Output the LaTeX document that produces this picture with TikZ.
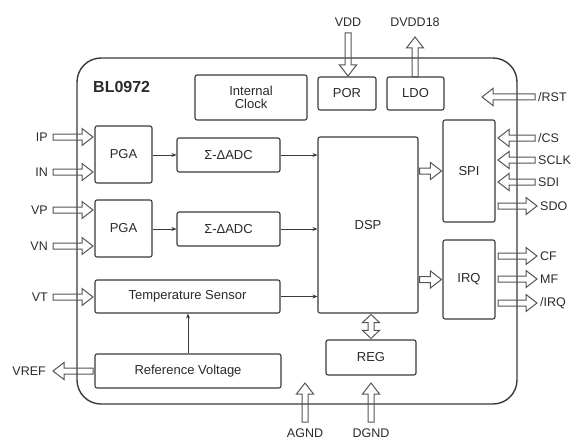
\documentclass[tikz,border=0pt]{standalone}
\usepackage{fontspec}
\setmainfont{Liberation Sans}
\usetikzlibrary{calc,arrows.meta}
\definecolor{ln}{HTML}{3A3A3A}
\definecolor{ar}{HTML}{555555}
\definecolor{tx}{HTML}{2A2A2A}
\def\bw{3pt}\def\bW{8.5pt}\def\bh{11pt}
\newcommand\blockarrow[2]{%
 \coordinate (hbA) at ($(#2)!\bh!(#1)$);
 \draw[barrow] ($(#1)!\bw!90:(#2)$) -- ($(hbA)!\bw!90:(#2)$) -- ($(hbA)!\bW!90:(#2)$) -- (#2) -- ($(hbA)!\bW!-90:(#2)$) -- ($(hbA)!\bw!-90:(#2)$) -- ($(#1)!\bw!-90:(#2)$) -- cycle;}
\newcommand\dblblockarrow[2]{%
 \coordinate (hbA) at ($(#1)!8pt!(#2)$);
 \coordinate (hbB) at ($(#2)!8pt!(#1)$);
 \draw[barrow] (#1) -- ($(hbA)!\bW!90:(#2)$) -- ($(hbA)!\bw!90:(#2)$) -- ($(hbB)!\bw!90:(#2)$) -- ($(hbB)!\bW!90:(#2)$) -- (#2) -- ($(hbB)!\bW!-90:(#2)$) -- ($(hbB)!\bw!-90:(#2)$) -- ($(hbA)!\bw!-90:(#2)$) -- ($(hbA)!\bW!-90:(#2)$) -- cycle;}
\begin{document}
\begin{tikzpicture}[x=1pt,y=-1pt,
  box/.style={draw=ln, line width=1.1pt, rounded corners=2pt, fill=white, text=tx,
    font=\fontsize{13}{15}\selectfont, inner sep=0pt, align=center},
  chipbox/.style={draw=ln, line width=1.4pt, rounded corners=24pt, inner sep=0pt},
  lbl/.style={text=tx, font=\fontsize{12.5}{14}\selectfont, inner sep=0pt},
  barrow/.style={draw=ar, line width=1pt, line join=miter},
  sig/.style={draw=ln, line width=0.7pt, -{Stealth[length=5pt,width=4pt]}}]
\useasboundingbox (0,0) rectangle (575,441);
% chip outline
\node[chipbox, minimum width=440pt, minimum height=346pt] (chip) at (297,231) {};
\node[anchor=west, text=tx, inner sep=0pt, font=\fontsize{16}{18}\selectfont\bfseries] (title) at (93,87) {BL0972};
% boxes
\node[box, minimum width=112pt, minimum height=45pt] (clk) at (251,97.5) {Internal\\[-2pt]Clock};
\node[box, minimum width=58pt, minimum height=33pt] (por) at (347,93.5) {POR};
\node[box, minimum width=57pt, minimum height=33pt] (ldo) at (415.5,93.5) {LDO};
\node[box, minimum width=57pt, minimum height=57pt] (pga1) at (123.5,154.5) {PGA};
\node[box, minimum width=57pt, minimum height=57pt] (pga2) at (123.5,228.5) {PGA};
\node[box, minimum width=103pt, minimum height=34pt] (adc1) at (228.5,155) {Σ-ΔADC};
\node[box, minimum width=103pt, minimum height=34pt] (adc2) at (228.5,229) {Σ-ΔADC};
\node[box, minimum width=185pt, minimum height=33pt] (ts) at (187.5,296.5) {Temperature Sensor};
\node[box, minimum width=186pt, minimum height=34pt] (rv) at (188,371) {Reference Voltage};
\node[box, minimum width=100pt, minimum height=176pt] (dsp) at (368,225) {DSP};
\node[box, minimum width=52pt, minimum height=102pt] (spi) at (469,171) {SPI};
\node[box, minimum width=52pt, minimum height=79pt] (irq) at (469,279.5) {IRQ};
\node[box, minimum width=90pt, minimum height=35pt] (reg) at (371,357.5) {REG};
% thin signal arrows
\draw[sig] (pga1.east |- adc1.west) -- (adc1.west);
\draw[sig] (pga2.east |- adc2.west) -- (adc2.west);
\draw[sig] (adc1.east) -- (dsp.west |- adc1.east);
\draw[sig] (adc2.east) -- (dsp.west |- adc2.east);
\draw[sig] (ts.east) -- (dsp.west |- ts.east);
\draw[sig] (rv.north) -- (rv.north |- ts.south);
% labels
\node[lbl, anchor=east] (lIP) at (48,137) {IP};
\node[lbl, anchor=east] (lIN) at (48,172) {IN};
\node[lbl, anchor=east] (lVP) at (48,210) {VP};
\node[lbl, anchor=east] (lVN) at (48,246) {VN};
\node[lbl, anchor=east] (lVT) at (48,297) {VT};
\node[lbl, anchor=east] (lVREF) at (46,371) {VREF};
\node[lbl] (lVDD) at (348,22) {VDD};
\node[lbl] (lDVDD) at (415,22) {DVDD18};
\node[lbl, anchor=west] (lRST) at (538,97) {/RST};
\node[lbl, anchor=west] (lCS) at (538,138) {/CS};
\node[lbl, anchor=west] (lSCLK) at (538,160) {SCLK};
\node[lbl, anchor=west] (lSDI) at (538,182) {SDI};
\node[lbl, anchor=west] (lSDO) at (540,206) {SDO};
\node[lbl, anchor=west] (lCF) at (540,256) {CF};
\node[lbl, anchor=west] (lMF) at (540,279) {MF};
\node[lbl, anchor=west] (lIRQ) at (540,303) {/IRQ};
\node[lbl] (lAGND) at (305,433) {AGND};
\node[lbl] (lDGND) at (371,433) {DGND};
% block arrow end points
\coordinate (ipS) at (53,137);  \coordinate (ipE) at (93,137);
\coordinate (inS) at (53,172);  \coordinate (inE) at (93,172);
\coordinate (vpS) at (53,210);  \coordinate (vpE) at (93,210);
\coordinate (vnS) at (53,246);  \coordinate (vnE) at (93,246);
\coordinate (vtS) at (53,297);  \coordinate (vtE) at (93,297);
\coordinate (vrS) at (93,371);  \coordinate (vrE) at (53,371);
\coordinate (vddS) at (348,33); \coordinate (vddE) at (348,76);
\coordinate (dvS) at (415,77);  \coordinate (dvE) at (415,37);
\coordinate (rstS) at (535,97); \coordinate (rstE) at (482,97);
\coordinate (csS) at (535,138); \coordinate (csE) at (498,138);
\coordinate (scS) at (535,160); \coordinate (scE) at (498,160);
\coordinate (sdiS) at (535,182); \coordinate (sdiE) at (498,182);
\coordinate (sdoS) at (498,206); \coordinate (sdoE) at (537,206);
\coordinate (cfS) at (498,256); \coordinate (cfE) at (537,256);
\coordinate (mfS) at (498,279); \coordinate (mfE) at (537,279);
\coordinate (irS) at (498,303); \coordinate (irE) at (537,303);
\coordinate (agS) at (305,422); \coordinate (agE) at (305,383);
\coordinate (dgS) at (371,422); \coordinate (dgE) at (371,383);
\coordinate (spiS) at ($(dsp.east |- spi.west)+(1,0)$);
\coordinate (spiE) at ($(spi.west)+(-1,0)$);
\coordinate (irqS) at ($(dsp.east |- irq.west)+(1,0)$);
\coordinate (irqE) at ($(irq.west)+(-1,0)$);
\coordinate (regS) at ($(reg.north |- dsp.south)+(0,1)$);
\coordinate (regE) at ($(reg.north)+(0,-1)$);
% block arrows
\blockarrow{ipS}{ipE}
\blockarrow{inS}{inE}
\blockarrow{vpS}{vpE}
\blockarrow{vnS}{vnE}
\blockarrow{vtS}{vtE}
\blockarrow{vrS}{vrE}
\blockarrow{vddS}{vddE}
\blockarrow{dvS}{dvE}
\blockarrow{rstS}{rstE}
\blockarrow{csS}{csE}
\blockarrow{scS}{scE}
\blockarrow{sdiS}{sdiE}
\blockarrow{sdoS}{sdoE}
\blockarrow{cfS}{cfE}
\blockarrow{mfS}{mfE}
\blockarrow{irS}{irE}
\blockarrow{agS}{agE}
\blockarrow{dgS}{dgE}
\blockarrow{spiS}{spiE}
\blockarrow{irqS}{irqE}
\dblblockarrow{regS}{regE}
\end{tikzpicture}
\end{document}
